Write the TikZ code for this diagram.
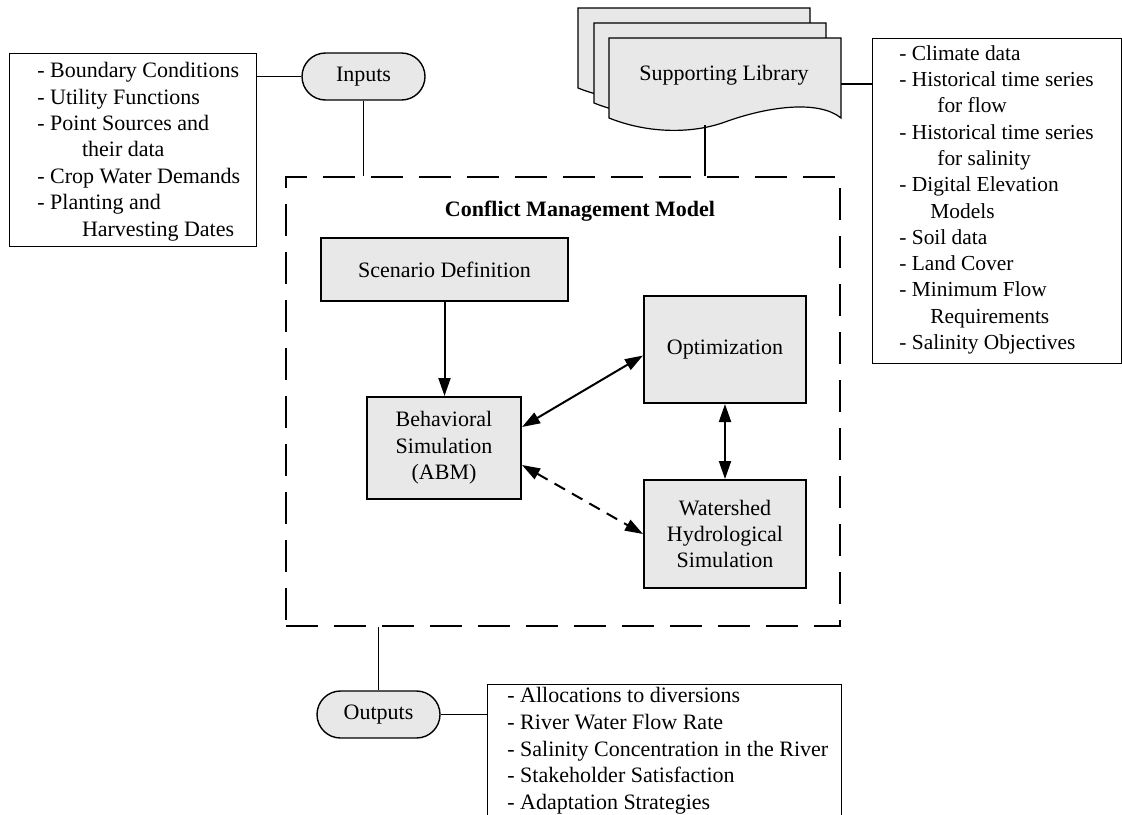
\documentclass[tikz,border=0pt]{standalone}
\usepackage{fontspec}
\setmainfont{Liberation Serif}
\usetikzlibrary{arrows.meta}
\definecolor{boxgray}{RGB}{232,232,232}
\tikzset{
  process/.style={rectangle, draw, line width=1pt, fill=boxgray, align=center, font=\fontsize{11}{13.2}\selectfont},
  terminal/.style={rectangle, draw, line width=0.7pt, fill=boxgray, rounded corners=11.75pt, minimum width=61.5pt, minimum height=23.5pt, font=\fontsize{11}{13.2}\selectfont},
  listbox/.style={rectangle, draw, line width=0.6pt, anchor=north west, inner sep=0pt},
  listtext/.style={anchor=north west, inner sep=0pt, align=left, font=\fontsize{11}{13.2}\selectfont},
  sheet/.style={draw, line width=0.6pt, fill=boxgray},
  link/.style={line width=0.8pt},
  onearrow/.style={line width=1pt, -{Triangle[length=9pt,width=6pt]}},
  biarrow/.style={line width=1pt, {Triangle[length=9pt,width=6pt]}-{Triangle[length=9pt,width=6pt]}}
}
\newcommand{\cmprocess}[5] {\node at (#1) (#2) [process, minimum width=#3, minimum height=#4] {#5};}
\newcommand{\cmterminal}[3] {\node at (#1) (#2) [terminal] {#3};}
\newcommand{\cmlistbox}[4] {\node at (#1) (#2) [listbox, minimum width=#3, minimum height=#4] {};}
\newcommand{\cmsheet}[1] {\draw [sheet, shift={(#1)}] (0,0) -- (232,0) -- (232,80) .. controls (210,62) and (160,68) .. (116,84) .. controls (84,95.6) and (40,96) .. (0,80) -- cycle;}

\begin{document}
\begin{tikzpicture}[x=0.5pt, y=-0.5pt]
\clip (0,0) rectangle (1122,814);

\node at (563,401.5) (cmm) [draw, line width=1pt, dash pattern=on 16pt off 8pt, minimum width=277pt, minimum height=224.5pt] {};
\node at (580,211) (title) [font=\bfseries\fontsize{11}{13.2}\selectfont] {Conflict Management Model};

\cmprocess {444.5,269.5} {scen} {123.5pt} {31.5pt} {Scenario Definition}
\cmprocess {444,448} {behav} {77pt} {51pt} {Behavioral\\Simulation\\(ABM)}
\cmprocess {725,349.5} {optim} {81pt} {53.5pt} {Optimization}
\cmprocess {725,534} {water} {81pt} {54pt} {Watershed\\Hydrological\\Simulation}

\cmterminal {363.5,76.5} {inputs} {Inputs}
\cmterminal {378.5,714.5} {outputs} {Outputs}

\cmlistbox {9,53} {inlist} {123.5pt} {96.5pt}
\cmlistbox {872,38} {liblist} {124.5pt} {162.5pt}
\cmlistbox {487,684} {outlist} {177pt} {80pt}

\node at ([xshift=14pt, yshift=-4.5pt]inlist.north west) (intext) [listtext]
  {- Boundary Conditions\\- Utility Functions\\- Point Sources and\\\hspace*{22.3pt}their data\\- Crop Water Demands\\- Planting and\\\hspace*{22.3pt}Harvesting Dates};
\node at ([xshift=13.5pt, yshift=-3.5pt]liblist.north west) (libtext) [listtext, font=\fontsize{10.7}{13.15}\selectfont]
  {- Climate data\\- Historical time series\\\hspace*{19pt}for flow\\- Historical time series\\\hspace*{19pt}for salinity\\- Digital Elevation\\\hspace*{15.5pt}Models\\- Soil data\\- Land Cover\\- Minimum Flow\\\hspace*{15.5pt}Requirements\\- Salinity Objectives};
\node at ([xshift=10pt, yshift=-1.5pt]outlist.north west) (outtext) [listtext, font=\fontsize{11}{13.35}\selectfont]
  {- Allocations to diversions\\- River Water Flow Rate\\- Salinity Concentration in the River\\- Stakeholder Satisfaction\\- Adaptation Strategies};

\cmsheet {578,8}
\cmsheet {594,23}
\cmsheet {609,38}
\node at (724,75) (lib) [font=\fontsize{11}{13.2}\selectfont] {Supporting Library};
\coordinate (libright) at (841,84);
\coordinate (libbot) at (705,125);

\draw [link] (inputs.west) -- (inputs.west -| inlist.east);
\draw [link] (inputs.south) -- (inputs.south |- cmm.north);
\draw [link] (libright) -- (libright -| liblist.west);
\draw [link] (libbot) -- (libbot |- cmm.north);
\draw [link] (outputs.north) -- (outputs.north |- cmm.south);
\draw [link] (outputs.east) -- (outputs.east -| outlist.west);

\draw [onearrow] (scen.south) -- (scen.south |- behav.north);
\draw [biarrow] ([yshift=10.5pt]behav.east) -- ([yshift=-3pt]optim.west);
\draw [biarrow] (optim) -- (water);
\draw [biarrow, dash pattern=on 6pt off 4pt] ([yshift=-8.5pt]behav.east) -- (water.west);
\end{tikzpicture}
\end{document}
